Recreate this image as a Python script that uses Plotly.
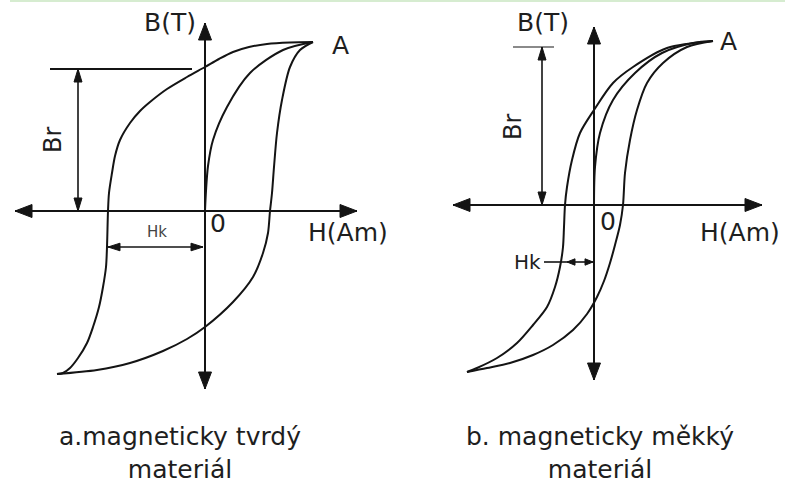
import plotly.graph_objects as go

W, H = 785, 482

# Axis crossing points of the two panels, in figure pixels (x right, y down)
LEFT_ORIGIN = (205, 211)
RIGHT_ORIGIN = (594, 205)

# ---------------- (a) magnetically hard material ----------------
# Descending branch: from saturation A down to negative saturation
hard_desc_h = [108, 85, 62, 44, 28, 14, 0, -18, -38, -55, -65, -75, -85, -90, -93, -96, -97,
               -98, -99, -102, -106, -112, -118, -127, -135, -142, -148]
hard_desc_b = [169, 168.5, 167, 164, 159, 152, 144, 134, 122, 109, 100, 88, 71, 55, 38, 18, 0,
               -36, -56, -76, -96, -116, -132, -147, -157, -162, -163]
# Ascending branch: from negative saturation back up to A
hard_asc_h = [-148, -108, -75, -42, -18, 0, 28, 48, 58, 63, 65, 67, 69, 72, 77, 85, 95, 108]
hard_asc_b = [-163, -159, -152, -140, -128, -116, -91, -66, -42, -22, 0, 18, 44, 78, 111, 144, 161, 169]
# Initial magnetisation curve from the origin to A
hard_init_h = [0, 1, 3, 8, 22, 45, 78, 108]
hard_init_b = [0, 20, 45, 71, 104, 138, 161, 169]

hard_axis_h = [-190, 152]      # H axis extent
hard_axis_b = [188, -178]      # B axis extent
hard_br = 142                  # remanence level
hard_br_bar = [-155, -13]      # horizontal marker at Br
hard_br_arrow_h = -127
hard_hk = [-97, -2]            # coercive field span
hard_hk_b = -36

# ---------------- (b) magnetically soft material ----------------
soft_desc_h = [119, 73, 39, 19, 0, -14, -22, -27, -29, -30, -31, -34, -39, -47, -61, -77, -97, -117, -127]
soft_desc_b = [164, 157, 138, 122, 95, 72, 45, 18, 0, -22, -42, -62, -82, -102, -120, -138, -153, -163, -167]
soft_asc_h = [-127, -107, -84, -61, -41, -21, -7, 3, 10, 16, 21, 26, 29, 31, 36, 43, 53, 69, 93, 119]
soft_asc_b = [-167, -163, -158, -150, -140, -125, -109, -92, -76, -58, -40, -20, 0, 32, 65, 95, 122, 142, 158, 164]
soft_init_h = [0, 1, 6, 19, 41, 68, 99, 119]
soft_init_b = [0, 38, 72, 105, 132, 152, 162, 164]

soft_axis_h = [-141, 168]
soft_axis_b = [178, -175]
soft_br = 158
soft_br_bar = [-81, -40]
soft_br_arrow_h = -52
soft_hk_leader = [-50, -27]
soft_hk = [-27, -1]
soft_hk_b = -57

captions = [
    ("a.magneticky tvrdý<br>materiál", 180, 453),
    ("b. magneticky měkký<br>materiál", 600, 453),
]

INK = "#141414"
FONT = "DejaVu Sans"

fig = go.Figure()


def line(xs, ys, panel, width=2.0, color=INK, spline=False):
    ax = "x" if panel == 1 else "x2"
    ay = "y" if panel == 1 else "y2"
    fig.add_trace(go.Scatter(
        x=xs, y=ys, xaxis=ax, yaxis=ay, mode="lines",
        line=dict(color=color, width=width,
                  shape="spline" if spline else "linear", smoothing=0.85),
        hoverinfo="skip", showlegend=False))


def head(tip_h, tip_b, dh, db, panel, length, half):
    """Filled triangular arrow head with its tip at (tip_h, tip_b) pointing along (dh, db)."""
    n = (dh ** 2 + db ** 2) ** 0.5
    dh, db = dh / n, db / n
    bh, bb = tip_h - dh * length, tip_b - db * length
    ph, pb = -db, dh
    xs = [tip_h, bh + ph * half, bh - ph * half, tip_h]
    ys = [tip_b, bb + pb * half, bb - pb * half, tip_b]
    ax = "x" if panel == 1 else "x2"
    ay = "y" if panel == 1 else "y2"
    fig.add_trace(go.Scatter(
        x=xs, y=ys, xaxis=ax, yaxis=ay, mode="lines", fill="toself",
        fillcolor=INK, line=dict(color=INK, width=1),
        hoverinfo="skip", showlegend=False))


def axes(axis_h, axis_b, panel):
    line(axis_h, [0, 0], panel, width=2)
    line([0, 0], axis_b, panel, width=2)
    head(axis_h[0], 0, -1, 0, panel, 17, 6.5)
    head(axis_h[1], 0, 1, 0, panel, 17, 6.5)
    head(0, axis_b[0], 0, 1, panel, 17, 6.5)
    head(0, axis_b[1], 0, -1, panel, 17, 6.5)


# ---- panel (a)
axes(hard_axis_h, hard_axis_b, 1)
line(hard_desc_h, hard_desc_b, 1, spline=True)
line(hard_asc_h, hard_asc_b, 1, spline=True)
line(hard_init_h, hard_init_b, 1, spline=True)
line(hard_br_bar, [hard_br, hard_br], 1, width=2)
line([hard_br_arrow_h, hard_br_arrow_h], [hard_br, 0], 1, width=1.6)
head(hard_br_arrow_h, hard_br, 0, 1, 1, 13, 4)
head(hard_br_arrow_h, 0, 0, -1, 1, 13, 4)
line(hard_hk, [hard_hk_b, hard_hk_b], 1, width=1.6)
head(hard_hk[0], hard_hk_b, -1, 0, 1, 12, 3.8)
head(hard_hk[1], hard_hk_b, 1, 0, 1, 12, 3.8)

# ---- panel (b)
axes(soft_axis_h, soft_axis_b, 2)
line(soft_desc_h, soft_desc_b, 2, spline=True)
line(soft_asc_h, soft_asc_b, 2, spline=True)
line(soft_init_h, soft_init_b, 2, spline=True)
line(soft_br_bar, [soft_br, soft_br], 2, width=2.2, color="#8a8a8a")
line([soft_br_arrow_h, soft_br_arrow_h], [soft_br, 0], 2, width=1.6)
head(soft_br_arrow_h, soft_br, 0, 1, 2, 13, 4)
head(soft_br_arrow_h, 0, 0, -1, 2, 13, 4)
line(soft_hk_leader, [soft_hk_b, soft_hk_b], 2, width=1.6)
line(soft_hk, [soft_hk_b, soft_hk_b], 2, width=1.6)
head(soft_hk[0], soft_hk_b, -1, 0, 2, 8, 3.2)
head(soft_hk[1], soft_hk_b, 1, 0, 2, 8, 3.2)

annotations = []


def label(text, h, b, panel, size, color="#1e1e1e", angle=0):
    annotations.append(dict(
        text=text, x=h, y=b, xref="x" if panel == 1 else "x2",
        yref="y" if panel == 1 else "y2", showarrow=False, textangle=angle,
        xanchor="center", yanchor="middle",
        font=dict(family=FONT, size=size, color=color)))


label("B(T)", -35, 189, 1, 25)
label("A", 135, 166, 1, 25)
label("0", 13, -12, 1, 25)
label("H(Am)", 143, -21, 1, 25)
label("Br", -152, 71, 1, 24, angle=-90)
label("Hk", -48, -21, 1, 15, color="#444444")

label("B(T)", -51, 183, 2, 25)
label("A", 134, 164, 2, 25)
label("0", 14, -16, 2, 25)
label("H(Am)", 146, -27, 2, 25)
label("Br", -81, 78, 2, 24, angle=-90)
label("Hk", -67, -57, 2, 20)

for text, px, py in captions:
    annotations.append(dict(
        text=text, x=px / W, y=1 - py / H, xref="paper", yref="paper",
        xanchor="center", yanchor="middle", align="center", showarrow=False,
        font=dict(family=FONT, size=25, color="#1e1e1e")))

hidden = dict(visible=False, showgrid=False, zeroline=False, fixedrange=True)
fig.update_layout(
    width=W, height=H,
    margin=dict(l=0, r=0, t=0, b=0),
    paper_bgcolor="white", plot_bgcolor="white",
    xaxis=dict(hidden, domain=[0, 1],
               range=[-LEFT_ORIGIN[0], W - LEFT_ORIGIN[0]]),
    yaxis=dict(hidden, domain=[0, 1],
               range=[-(H - LEFT_ORIGIN[1]), LEFT_ORIGIN[1]]),
    xaxis2=dict(hidden, domain=[0, 1], anchor="y2", overlaying="x",
                range=[-RIGHT_ORIGIN[0], W - RIGHT_ORIGIN[0]]),
    yaxis2=dict(hidden, domain=[0, 1], anchor="x2", overlaying="y",
                range=[-(H - RIGHT_ORIGIN[1]), RIGHT_ORIGIN[1]]),
    annotations=annotations,
    shapes=[dict(type="line", xref="paper", yref="paper",
                 x0=10 / W, x1=1, y0=1 - 1 / H, y1=1 - 1 / H,
                 line=dict(color="#d6ecd0", width=2))],
    showlegend=False,
)

fig.write_html("out.html")
